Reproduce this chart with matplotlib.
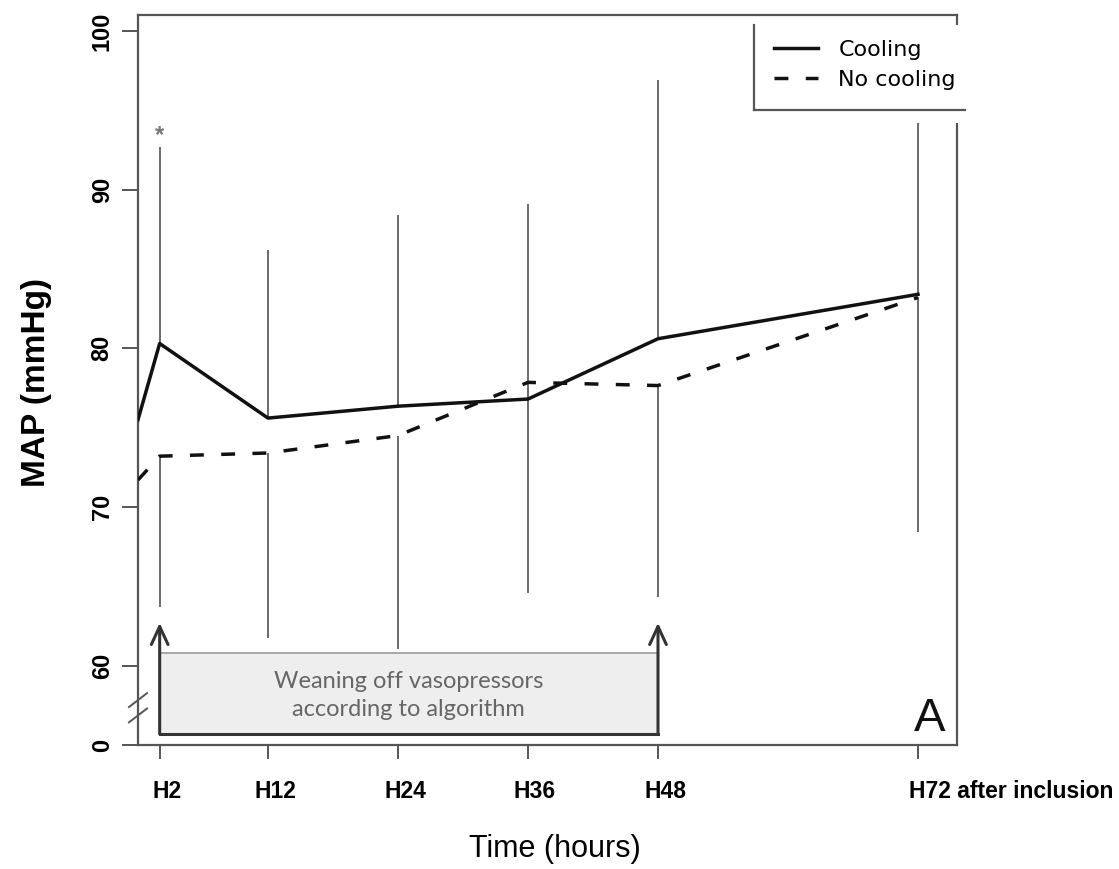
"""
MAP over time, cooling vs no cooling (panel A).
"""

import matplotlib
matplotlib.use("Agg")
import matplotlib.pyplot as plt
from matplotlib.patches import Rectangle
from matplotlib.lines import Line2D
from matplotlib.transforms import ScaledTranslation

plt.rcParams['font.family'] = ['Liberation Sans', 'DejaVu Sans']

# mean MAP (mmHg), hour 0 = inclusion
hours = [0, 2, 12, 24, 36, 48, 72]
cooling_mean = [75.5, 80.3, 75.6, 76.35, 76.8, 80.6, 83.4]
no_cooling_mean = [71.7, 73.2, 73.4, 74.5, 77.85, 77.65, 83.2]

# spread bars: cooling drawn upwards, no cooling downwards
bar_hours = [2, 12, 24, 36, 48, 72]
cooling_bar_top = [92.7, 86.2, 88.4, 89.1, 96.9, 95.0]
no_cooling_bar_bottom = [63.7, 61.75, 61.05, 64.6, 64.3, 68.4]

tick_labels = ["H2", "H12", "H24", "H36", "H48", "H72 after inclusion"]

# broken y axis: 55 on the plot stands for 0
ytick_values = [55, 60, 70, 80, 90, 100]
ytick_labels = ["0", "60", "70", "80", "90", "100"]

# weaning period (hours)
wean_start = 2
wean_end = 48

W, H = 1119, 869
fig = plt.figure(figsize=(W / 100, H / 100), dpi=100)
ax = fig.add_axes([138 / W, 1 - 745 / H, (957 - 138) / W, (745 - 15) / H])
ax.set_xlim(0, 75.6)
ax.set_ylim(55, 101)

for s in ax.spines.values():
    s.set_color('#555555')
    s.set_linewidth(1.6)

# spread bars
ax.vlines(bar_hours, cooling_mean[1:], cooling_bar_top, color='#6a6a6a', lw=1.4, zorder=1)
ax.vlines(bar_hours, no_cooling_bar_bottom, no_cooling_mean[1:], color='#6a6a6a', lw=1.4, zorder=1)

# means
l1, = ax.plot(hours, cooling_mean, color='#111111', lw=2.5, label='Cooling', zorder=3)
l2, = ax.plot(hours, no_cooling_mean, color='#111111', lw=2.5, ls=(0, (4.0, 5.0)),
              label='No cooling', zorder=3)

# significance mark at H2
ax.text(bar_hours[0], 93.4, '*', ha='center', va='center', color='#777777',
        fontsize=17, fontweight='bold')

# weaning box
ax.add_patch(Rectangle((wean_start, 55.7), wean_end - wean_start, 5.1,
                       facecolor='#eeeeee', edgecolor='none', zorder=0.5))
ax.plot([wean_start, wean_end], [60.8, 60.8], color='#999999', lw=1.2, zorder=0.6)
ax.plot([wean_start, wean_end], [55.7, 55.7], color='#333333', lw=2.2, zorder=2)
for x in (wean_start, wean_end):
    ax.annotate('', xy=(x, 62.7), xytext=(x, 55.7),
                arrowprops=dict(arrowstyle='->,head_length=1.3,head_width=0.6',
                                color='#333333', lw=2.2, shrinkA=0, shrinkB=0))
ax.text((wean_start + wean_end) / 2, 58.1,
        "Weaning off vasopressors\naccording to algorithm",
        ha='center', va='center', color='#666666', fontsize=17,
        family='Lato', linespacing=1.4)

ax.text(0.967, 0.019, 'A', transform=ax.transAxes, ha='center', va='baseline',
        fontsize=34, color='#111111')

# axis break marks
for y0 in (0.031, 0.052):
    ax.plot([-0.011, 0.011], [y0, y0 + 0.019], transform=ax.transAxes,
            color='#555555', lw=1.4, clip_on=False)

# ticks
ax.set_yticks(ytick_values, ytick_labels)
ax.tick_params(axis='y', length=11.5, width=1.4, color='#555555', pad=6,
               labelsize=17, labelrotation=90)
for lab in ax.get_yticklabels():
    lab.set_va('center')
    lab.set_fontweight('bold')

ax.set_xticks(bar_hours, tick_labels)
ax.tick_params(axis='x', length=10, width=1.4, color='#555555', pad=15, labelsize=16.5)
for lab in ax.get_xticklabels():
    lab.set_fontweight('bold')
    lab.set_transform(lab.get_transform() + ScaledTranslation(0.07, 0, fig.dpi_scale_trans))
last = ax.get_xticklabels()[-1]
last.set_ha('left')
last.set_transform(last.get_transform() + ScaledTranslation(-0.16, 0, fig.dpi_scale_trans))

ax.set_ylabel('MAP (mmHg)', fontsize=24, fontweight='bold')
ax.yaxis.set_label_coords(-0.1245, 0.496)
ax.yaxis.label.set_va('center')
ax.set_xlabel('Time (hours)', fontsize=22)
ax.xaxis.set_label_coords(0.509, -0.142)
ax.xaxis.label.set_va('center')

# legend sits on a white patch that hides the top right of the frame
fig.add_artist(Rectangle((754 / W, 1 - 123 / H), (965 - 754) / W, (123 - 25) / H,
                         transform=fig.transFigure, facecolor='white',
                         edgecolor='none', zorder=3))
fig.add_artist(Line2D([754 / W, 754 / W], [1 - 25 / H, 1 - 110 / H],
                      transform=fig.transFigure, color='#555555', lw=1.6, zorder=4))
fig.add_artist(Line2D([754 / W, 965 / W], [1 - 110 / H, 1 - 110 / H],
                      transform=fig.transFigure, color='#555555', lw=1.6, zorder=4))
fig.legend(handles=[l1, l2], loc='upper left', bbox_to_anchor=(774 / W, 1 - 40 / H),
           frameon=False, borderpad=0, borderaxespad=0, handlelength=2.0,
           handletextpad=0.9, labelspacing=0.45,
           prop={'family': 'DejaVu Sans', 'size': 16, 'weight': 'medium'})

fig.savefig('out.png', dpi=100)
plt.close(fig)
